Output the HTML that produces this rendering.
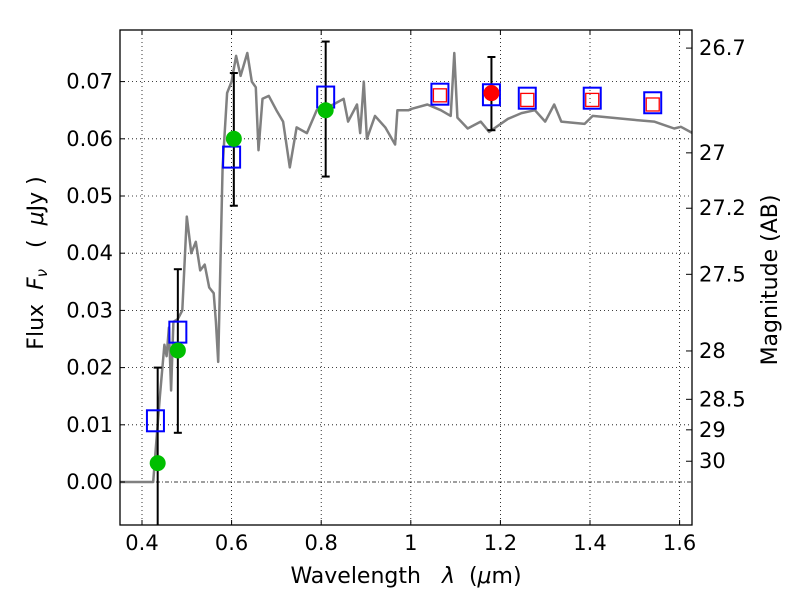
<!DOCTYPE html>
<html><head><meta charset="utf-8"><style>
body{margin:0;background:#fff}
svg text{font-family:"DejaVu Sans","Liberation Sans",sans-serif;font-size:21px;fill:#000}
svg text.title{font-size:22px}
</style></head><body>
<svg id="chart" width="800" height="600">
<g id="grid"></g>
<g id="spec"></g>
<g id="marks"></g>
<rect x="120" y="30" width="572" height="495" fill="none" stroke="#000" stroke-width="1.3"/>
<g id="axes"></g>
<text class="title" x="406" y="583" text-anchor="middle" xml:space="preserve">Wavelength   <tspan font-style="italic">λ</tspan>  (<tspan font-style="italic">μ</tspan>m)</text>
<text class="title" transform="translate(43,263) rotate(-90)" text-anchor="middle" xml:space="preserve">Flux  <tspan font-style="italic">F</tspan><tspan font-style="italic" font-size="15" dy="4">ν</tspan><tspan dy="-4">   (  </tspan><tspan font-style="italic">μ</tspan>Jy )</text>
<text class="title" transform="translate(777,280) rotate(-90)" text-anchor="middle">Magnitude (AB)</text>
</svg>
<script>
const xTicks=[0.4,0.6,0.8,1.0,1.2,1.4,1.6];
const xTickLabels=["0.4","0.6","0.8","1","1.2","1.4","1.6"];
const yTicks=[0,0.01,0.02,0.03,0.04,0.05,0.06,0.07];
const yTickLabels=["0.00","0.01","0.02","0.03","0.04","0.05","0.06","0.07"];
const magTicks=[26.7,27,27.2,27.5,28,28.5,29,30];
const magLabels=["26.7","27","27.2","27.5","28","28.5","29","30"];
const specW=[0.35,0.425,0.43,0.44,0.45,0.455,0.46,0.465,0.47,0.48,0.49,0.5,0.51,0.52,0.53,0.54,0.55,0.56,0.565,0.57,0.58,0.59,0.6,0.61,0.62,0.635,0.645,0.654,0.66,0.669,0.683,0.70,0.715,0.73,0.745,0.768,0.79,0.827,0.85,0.86,0.88,0.887,0.895,0.902,0.92,0.943,0.965,0.97,0.995,1.0,1.037,1.067,1.089,1.097,1.104,1.127,1.156,1.175,1.217,1.247,1.277,1.3,1.32,1.336,1.388,1.406,1.499,1.543,1.588,1.603,1.629];
const specF=[0,0,0.005,0.015,0.024,0.022,0.027,0.016,0.028,0.0285,0.03,0.0464,0.040,0.042,0.037,0.038,0.034,0.033,0.028,0.021,0.055,0.068,0.070,0.0745,0.071,0.075,0.070,0.069,0.058,0.067,0.0675,0.065,0.063,0.055,0.062,0.061,0.065,0.066,0.067,0.063,0.066,0.061,0.070,0.060,0.064,0.062,0.059,0.065,0.065,0.0652,0.066,0.065,0.064,0.075,0.0637,0.0618,0.063,0.0612,0.0635,0.0645,0.065,0.063,0.066,0.063,0.0626,0.064,0.0633,0.063,0.0618,0.0621,0.061];
const circW=[0.435,0.48,0.605,0.81];
const circF=[0.0033,0.023,0.060,0.065];
const redW=[1.18];
const redF=[0.068];
const errW=[0.435,0.48,0.605,0.81,1.18];
const errLo=[-0.012,0.0086,0.0483,0.0534,0.0615];
const errHi=[0.020,0.0372,0.0715,0.077,0.0743];
const sqW=[0.43,0.48,0.60,0.81,1.065,1.18,1.26,1.405,1.54];
const sqF=[0.0107,0.0262,0.0568,0.0673,0.0678,0.0677,0.0671,0.0671,0.0663];
const rsqW=[1.065,1.26,1.405,1.54];
const rsqF=[0.0676,0.0668,0.0668,0.066];

const X=w=>142+(w-0.4)*448;
const Y=f=>482-f*5720;
const L=120,R=692,T=30,B=525;
const NS="http://www.w3.org/2000/svg";
function mk(p,tag,a){const e=document.createElementNS(NS,tag);for(const k in a)e.setAttribute(k,a[k]);p.appendChild(e);return e;}
const grid=document.getElementById('grid'),axes=document.getElementById('axes'),spec=document.getElementById('spec'),marks=document.getElementById('marks');
xTicks.forEach((t,i)=>{const x=X(t);
 let g=mk(grid,'line',{x1:x,x2:x,y1:T,y2:B,stroke:'#000','stroke-width':0.8,'stroke-dasharray':'1,3'});
 
 
 mk(axes,'line',{x1:x,x2:x,y1:B,y2:B-5,stroke:'#000'});
 mk(axes,'line',{x1:x,x2:x,y1:T,y2:T+5,stroke:'#000'});
 let tx=mk(axes,'text',{x:x,y:B+25,'text-anchor':'middle'});tx.textContent=xTickLabels[i];
 
 
});
yTicks.forEach((t,i)=>{const y=Y(t);
 let g=mk(grid,'line',{x1:L,x2:R,y1:y,y2:y,stroke:'#000','stroke-width':0.8,'stroke-dasharray':t===0?'4,2,1,2':'1,3'});
 
 
 mk(axes,'line',{x1:L,x2:L+5,y1:y,y2:y,stroke:'#000'});
 let tx=mk(axes,'text',{x:L-7,y:y+7,'text-anchor':'end'});tx.textContent=yTickLabels[i];
 
 
});
magTicks.forEach((m,i)=>{const y=Y(Math.pow(10,(23.9-m)/2.5));
 mk(axes,'line',{x1:R,x2:R-6,y1:y,y2:y,stroke:'#000'});
 let tx=mk(axes,'text',{x:R+7,y:y+7,'text-anchor':'start'});tx.textContent=magLabels[i];
 
 
});
const cp=document.createElementNS(NS,'clipPath');cp.id='clip';document.getElementById('chart').appendChild(cp);
mk(cp,'rect',{x:L,y:T,width:R-L,height:B-T});
let pts=specW.map((w,i)=>X(w).toFixed(1)+','+Y(specF[i]).toFixed(1)).join(' ');
let pl=mk(spec,'polyline',{points:pts,fill:'none',stroke:'#808080','stroke-width':2.5,'clip-path':'url(#clip)','stroke-linejoin':'round'});


errW.forEach((w,i)=>{const x=X(w),y1=Math.min(Y(errLo[i]),B),y2=Y(errHi[i]);
 let e=mk(marks,'line',{x1:x,x2:x,y1:y1,y2:y2,stroke:'#000','stroke-width':2});
 
 
 mk(marks,'line',{x1:x-4,x2:x+4,y1:y2,y2:y2,stroke:'#000','stroke-width':2});
 if(Y(errLo[i])<B) mk(marks,'line',{x1:x-4,x2:x+4,y1:y1,y2:y1,stroke:'#000','stroke-width':2});
});
sqW.forEach((w,i)=>{let s=mk(marks,'rect',{x:X(w)-8.5,y:Y(sqF[i])-10.5,width:17,height:21,fill:'none',stroke:'#0000ff','stroke-width':2});
 
 });
rsqW.forEach((w,i)=>{let s=mk(marks,'rect',{x:X(w)-6.5,y:Y(rsqF[i])-6.5,width:13,height:13,fill:'none',stroke:'#ff0000','stroke-width':1.3});
 
 });
circW.forEach((w,i)=>{let c=mk(marks,'circle',{cx:X(w),cy:Y(circF[i]),r:8,fill:'#00bf00'});
 
 });
redW.forEach((w,i)=>{let c=mk(marks,'circle',{cx:X(w),cy:Y(redF[i]),r:8,fill:'#ff0000'});
 
 });
</script>
</body></html>
